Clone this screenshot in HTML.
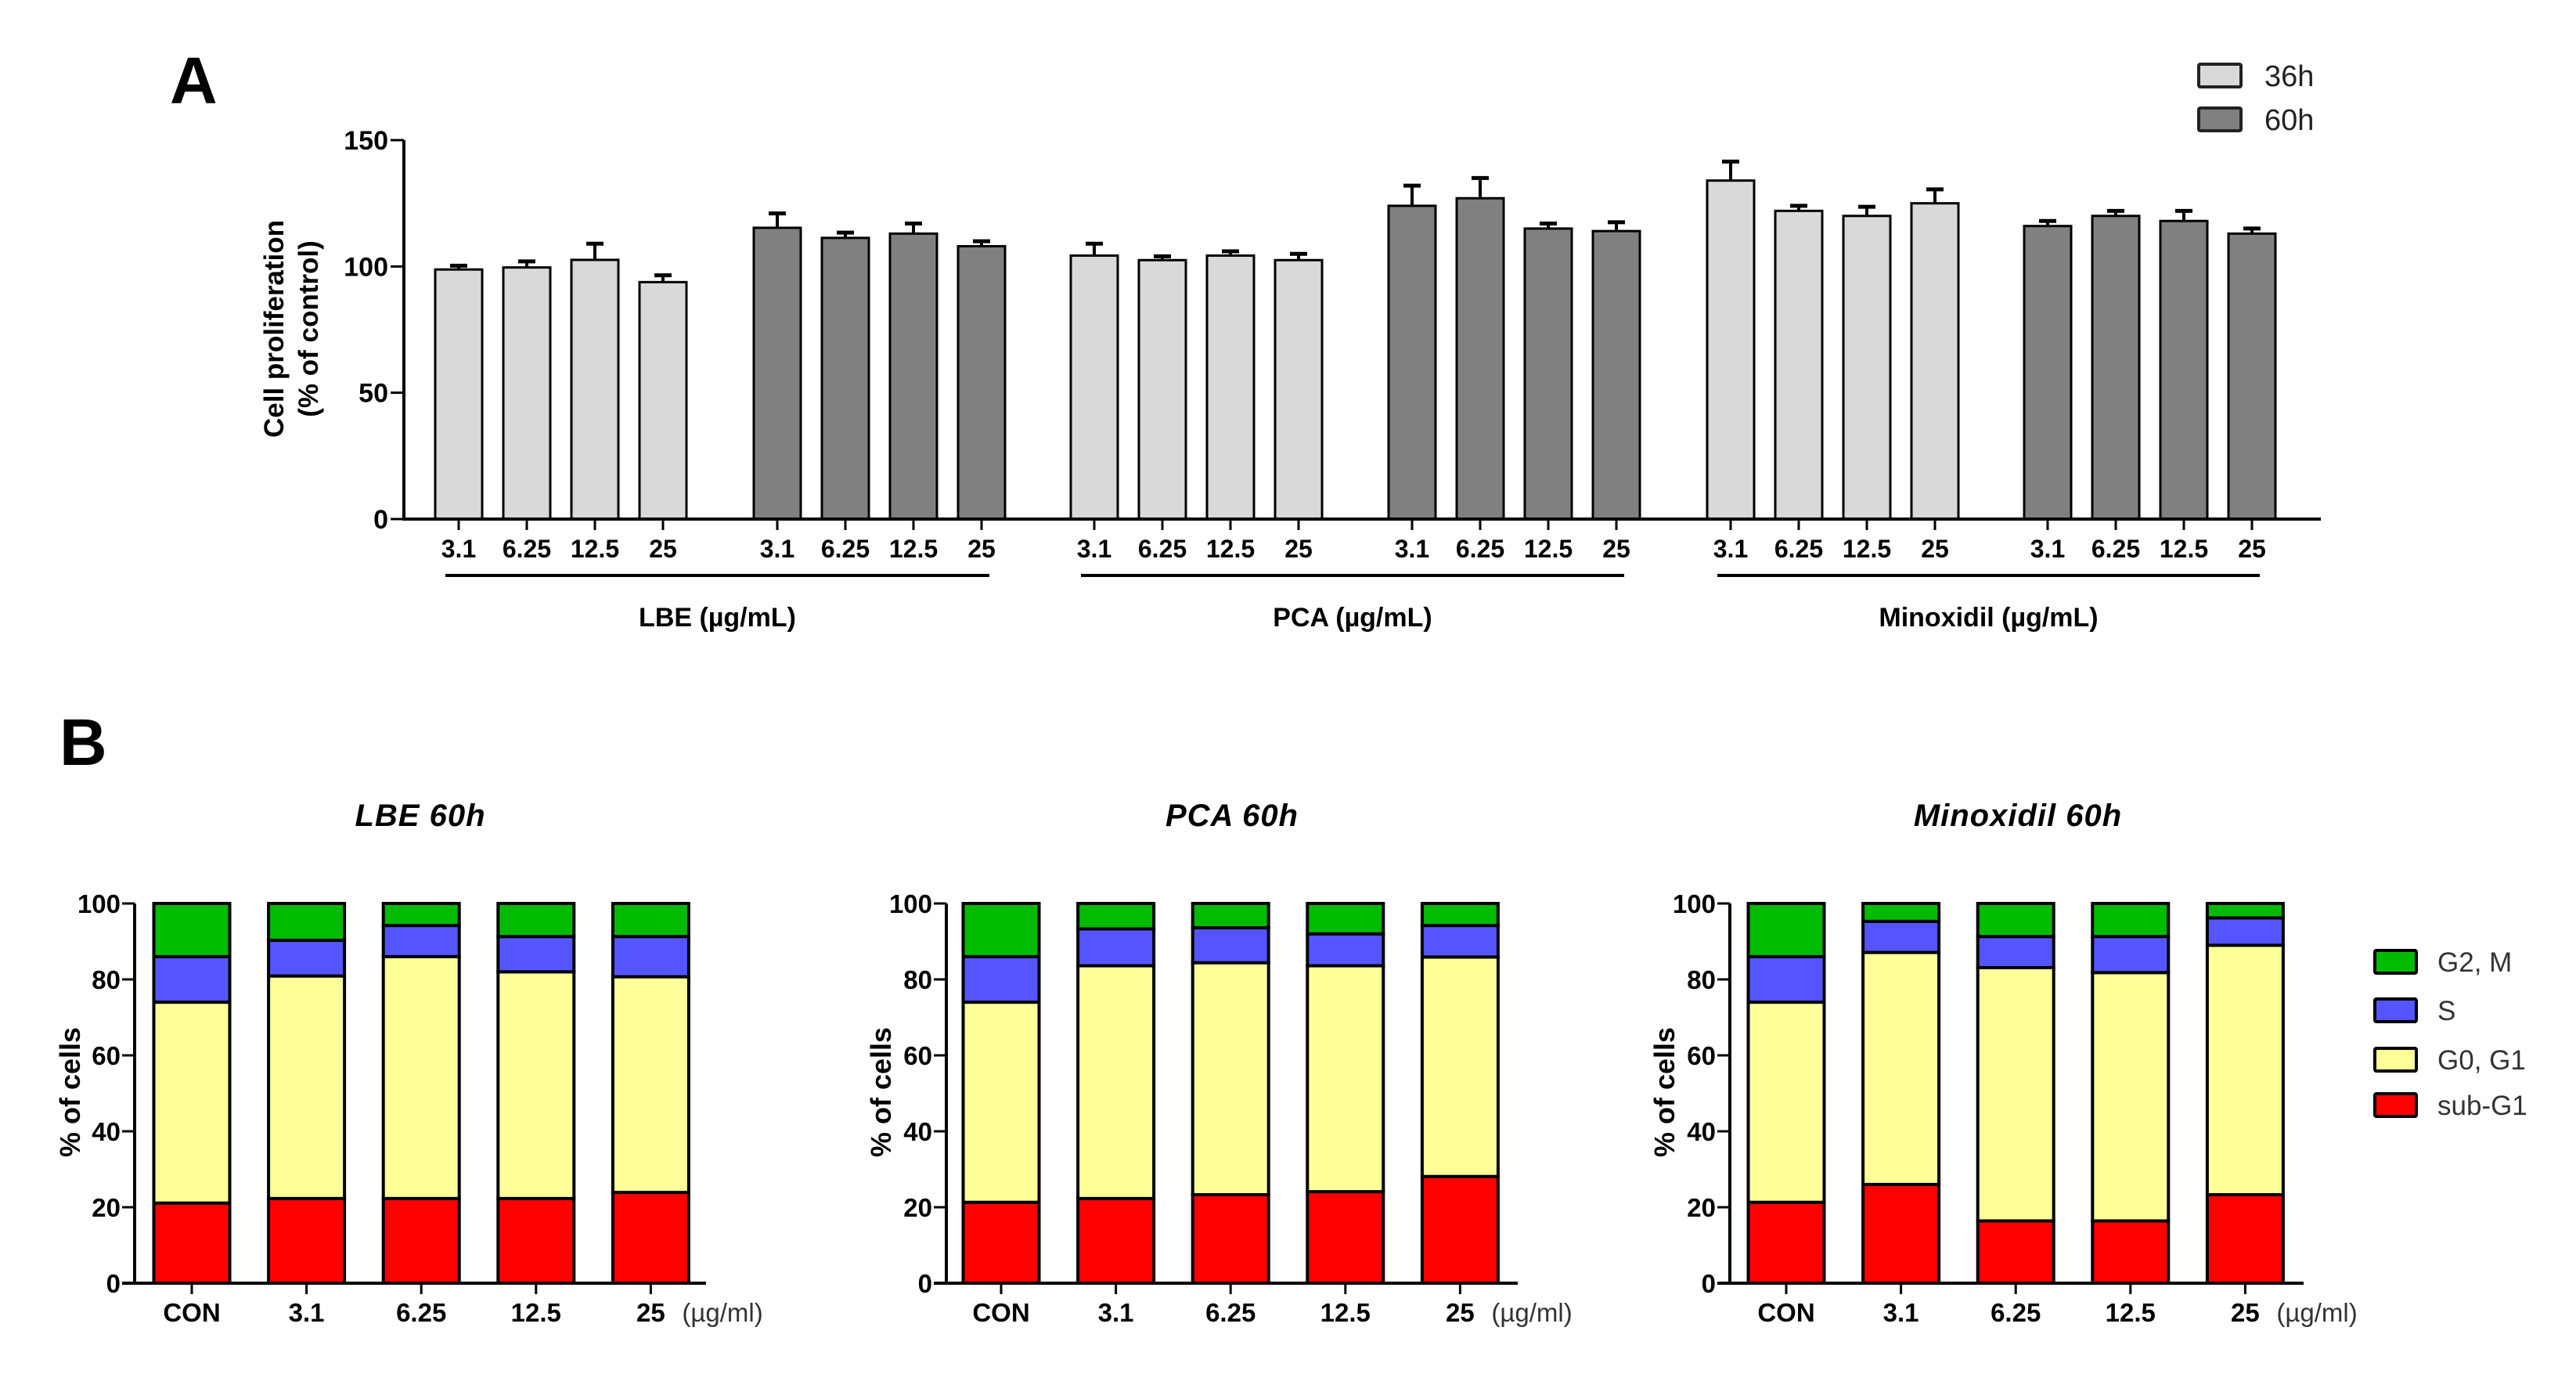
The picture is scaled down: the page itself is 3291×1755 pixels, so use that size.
<!DOCTYPE html>
<html><head><meta charset="utf-8"><style>
html,body{margin:0;padding:0;background:#fff;}
svg{display:block;font-family:"Liberation Sans",Arial,sans-serif;}
</style></head><body>
<svg id="fig" width="3291" height="1755" viewBox="0 0 3291 1755" xmlns="http://www.w3.org/2000/svg">
<text x="217" y="132" font-size="84" font-weight="bold">A</text>
<text x="76" y="977" font-size="84" font-weight="bold">B</text>
<g id="chartA"></g>
<g id="chartB"></g>
</svg>
<script>
// ---------- Chart A data ----------
const aDoses = ["3.1","6.25","12.5","25"];
const aGroups = ["LBE 36h","LBE 60h","PCA 36h","PCA 60h","Minoxidil 36h","Minoxidil 60h"];
const aTime = ["36h","60h","36h","60h","36h","60h"];
const aLBE36 = [98.8, 99.6, 102.6, 93.8];
const aLBE60 = [115.3, 111.3, 113, 108];
const aPCA36 = [104.3, 102.5, 104.3, 102.5];
const aPCA60 = [124, 127, 115, 114];
const aMin36 = [134, 122, 120, 125];
const aMin60 = [116, 120, 118, 113];
const aErrLBE36 = [1.5, 2.4, 6.4, 2.7];
const aErrLBE60 = [5.7, 2.1, 4, 2];
const aErrPCA36 = [4.7, 1.5, 1.7, 2.5];
const aErrPCA60 = [8, 8, 2, 3.5];
const aErrMin36 = [7.5, 2, 3.6, 5.5];
const aErrMin60 = [2, 2, 4, 2];
const aTicks = [0, 50, 100, 150];
const aCompounds = ["LBE (\u00b5g/mL)","PCA (\u00b5g/mL)","Minoxidil (\u00b5g/mL)"];
const aLegend = ["36h","60h"];

// ---------- Chart B data ----------
const bCats = ["CON","3.1","6.25","12.5","25"];
const bTitles = ["LBE 60h","PCA 60h","Minoxidil 60h"];
const bPhases = ["sub-G1","G0, G1","S","G2, M"];
const bLBE_sub = [21.1, 22.3, 22.3, 22.3, 23.9];
const bLBE_g01 = [52.9, 58.6, 63.7, 59.7, 56.8];
const bLBE_s = [12, 9.4, 8.2, 9.3, 10.6];
const bLBE_g2m = [14, 9.7, 5.8, 8.7, 8.7];
const bPCA_sub = [21.3, 22.3, 23.3, 24.1, 28.1];
const bPCA_g01 = [52.7, 61.3, 61.1, 59.5, 57.8];
const bPCA_s = [12, 9.7, 9.2, 8.4, 8.3];
const bPCA_g2m = [14, 6.7, 6.4, 8, 5.8];
const bMin_sub = [21.3, 26, 16.4, 16.4, 23.3];
const bMin_g01 = [52.7, 61.1, 66.7, 65.4, 65.7];
const bMin_s = [12, 8.2, 8.2, 9.5, 7.2];
const bMin_g2m = [14, 4.7, 8.7, 8.7, 3.8];
const bTicks = [0, 20, 40, 60, 80, 100];
const bUnit = "(\u00b5g/ml)";

const NS = "http://www.w3.org/2000/svg";
function mk(parent, tag, attrs, text){
  const e = document.createElementNS(NS, tag);
  for (const k in attrs) e.setAttribute(k, attrs[k]);
  if (text !== undefined) e.textContent = text;
  parent.appendChild(e);
  return e;
}

// ---------- Draw chart A ----------
(function(){
  const g = document.getElementById("chartA");
  const axX = 516, y0 = 663, y150 = 179, axEnd = 2965;
  const yA = v => y0 - (v/150)*(y0 - y150);
  const groupStart = [586, 993, 1398, 1804, 2211, 2616];
  const step = 87, bw = 60;
  const xA = (gi, di) => groupStart[gi] + di*step;
  const vals = [aLBE36, aLBE60, aPCA36, aPCA60, aMin36, aMin60];
  const errs = [aErrLBE36, aErrLBE60, aErrPCA36, aErrPCA60, aErrMin36, aErrMin60];
  const fills = {"36h":"#d9d9d9","60h":"#808080"};

  vals.forEach((arr, gi) => {
    arr.forEach((v, di) => {
      const cx = xA(gi, di);
      const top = yA(v + errs[gi][di]);
      let l = mk(g, "line", {x1:cx, y1:yA(v), x2:cx, y2:top, stroke:"#000","stroke-width":4});
      
      
      let c = mk(g, "line", {x1:cx-11, y1:top, x2:cx+11, y2:top, stroke:"#000","stroke-width":5});
      
      
      const r = mk(g, "rect", {x:cx-bw/2, y:yA(v), width:bw, height:y0-yA(v), fill:fills[aTime[gi]], stroke:"#000","stroke-width":3});
      
      
      const t = mk(g, "line", {x1:cx, y1:y0, x2:cx, y2:y0+14, stroke:"#000","stroke-width":3});
      
      
      const lb = mk(g, "text", {x:cx, y:712, "font-size":32, "font-weight":"bold", "text-anchor":"middle"}, aDoses[di]);
      
      
    });
  });
  // axes
  let ax = mk(g, "line", {x1:axX, y1:y150, x2:axX, y2:y0+1.5, stroke:"#000","stroke-width":4});
  
  
  let xx = mk(g, "line", {x1:axX-2, y1:y0, x2:axEnd, y2:y0, stroke:"#000","stroke-width":4});
  
  
  aTicks.forEach(t => {
    const y = yA(t);
    const tk = mk(g, "line", {x1:axX-17, y1:y, x2:axX, y2:y, stroke:"#000","stroke-width":3});
    
    
    const tl = mk(g, "text", {x:axX-20, y:y+12, "font-size":34, "font-weight":"bold", "text-anchor":"end"}, String(t));
    
    
  });
  // y title
  const yt = mk(g, "text", {transform:"translate(362,420) rotate(-90)", "font-size":35, "font-weight":"bold", "text-anchor":"middle"});
  
  
  mk(yt, "tspan", {x:0, y:0}, "Cell proliferation");
  mk(yt, "tspan", {x:0, y:44}, "(% of control)");
  // group underlines & labels
  [0, 2, 4].forEach((gi, k) => {
    const x1 = xA(gi, 0) - 17, x2 = xA(gi+1, 3) + 10;
    const ul = mk(g, "line", {x1:x1, y1:735, x2:x2, y2:735, stroke:"#000","stroke-width":4});
    
    
    const gl = mk(g, "text", {x:(x1+x2)/2, y:800, "font-size":34, "font-weight":"bold", "text-anchor":"middle"}, aCompounds[k]);
    
    
  });
  // legend
  aLegend.forEach((s, i) => {
    const y = 82 + i*56;
    const b = mk(g, "rect", {x:2809, y:y, width:54, height:29, fill:fills[s], stroke:"#222","stroke-width":4, rx:2});
    
    
    const t = mk(g, "text", {x:2893, y:y+28, "font-size":38, fill:"#222"}, s);
    
    
  });
})();

// ---------- Draw chart B ----------
(function(){
  const g = document.getElementById("chartB");
  const y0 = 1639, y100 = 1154;
  const yB = v => y0 - (v/100)*(y0 - y100);
  const axXs = [172, 1209, 2210];
  const conX = [245, 1279, 2282];
  const axEnds = [902, 1939, 2943];
  const titleX = [537, 1574, 2578];
  const yTitleX = [102, 1138, 2139];
  const step = 146.6, bw = 97;
  const colors = ["#ff0000","#ffff99","#5555ff","#00bb00"];
  const data = [
    [bLBE_sub, bLBE_g01, bLBE_s, bLBE_g2m],
    [bPCA_sub, bPCA_g01, bPCA_s, bPCA_g2m],
    [bMin_sub, bMin_g01, bMin_s, bMin_g2m]
  ];
  data.forEach((series, p) => {
    const xB = i => conX[p] + i*step;
    bCats.forEach((cat, i) => {
      let base = 0;
      series.forEach((arr, s) => {
        const v = arr[i];
        const r = mk(g, "rect", {x:xB(i)-bw/2, y:yB(base+v), width:bw, height:yB(base)-yB(base+v), fill:colors[s], stroke:"#000","stroke-width":4});
        
        
        base += v;
      });
      const tk = mk(g, "line", {x1:xB(i), y1:y0, x2:xB(i), y2:y0+14, stroke:"#000","stroke-width":3});
      
      
      const lb = mk(g, "text", {x:xB(i), y:1688, "font-size":33, "font-weight":"bold", "text-anchor":"middle"}, cat);
      
      
    });
    const un = mk(g, "text", {x:xB(4)+40, y:1688, "font-size":33, fill:"#333"}, bUnit);
    
    
    const ay = mk(g, "line", {x1:axXs[p], y1:y100, x2:axXs[p], y2:y0+2, stroke:"#000","stroke-width":4});
    
    
    const axx = mk(g, "line", {x1:axXs[p]-16, y1:y0, x2:axEnds[p], y2:y0, stroke:"#000","stroke-width":4});
    
    
    bTicks.forEach(t => {
      const y = yB(t);
      const tk = mk(g, "line", {x1:axXs[p]-16, y1:y, x2:axXs[p], y2:y, stroke:"#000","stroke-width":3});
      
      
      const tl = mk(g, "text", {x:axXs[p]-18, y:y+12, "font-size":33, "font-weight":"bold", "text-anchor":"end"}, String(t));
      
      
    });
    const tt = mk(g, "text", {x:titleX[p], y:1055, "font-size":40, "font-weight":"bold", "font-style":"italic", "text-anchor":"middle", "letter-spacing":"1"}, bTitles[p]);
    
    
    const yt = mk(g, "text", {transform:"translate(" + yTitleX[p] + ",1395) rotate(-90)", "font-size":36, "font-weight":"bold", "text-anchor":"middle"}, "% of cells");
    
    
  });
  // legend (top to bottom: G2,M ; S ; G0,G1 ; sub-G1)
  const legY = [1229, 1291, 1354, 1412];
  [3, 2, 1, 0].forEach((s, k) => {
    const b = mk(g, "rect", {x:3034, y:legY[k]-15, width:53, height:29, fill:colors[s], stroke:"#000","stroke-width":4, rx:2});
    
    
    const t = mk(g, "text", {x:3114, y:legY[k]+12, "font-size":35, fill:"#333"}, bPhases[s]);
    
    
  });
})();
</script>
</body></html>
